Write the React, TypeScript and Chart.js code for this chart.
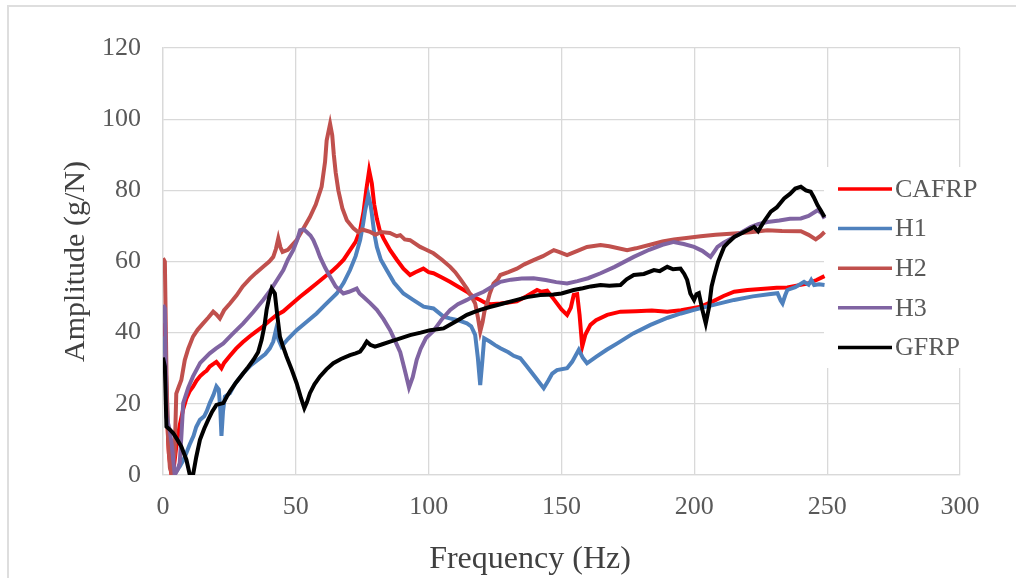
import { useEffect, useRef } from "react";
import { Chart, registerables } from "chart.js";

Chart.register(...registerables);

// Frequency response (amplitude vs. frequency) for five laminates.
const cafrpFreq = [0, 0.7, 1.3, 2.2, 3.2, 4.2, 5, 6.3, 7.6, 8.8, 10, 11.3, 12.6, 14, 15.5, 16.4, 17.6, 19, 20.1, 21, 22, 23, 25.2, 27.5, 30, 32.7, 35, 37.7, 40, 42.8, 45.3, 48, 51.6, 54.5, 57.8, 61, 63.5, 65.4, 68, 70.4, 72.5, 74.2, 75.5, 76.5, 77.6, 78.6, 79.5, 80.5, 81.5, 83, 85.5, 88, 90.5, 93, 95, 98, 100, 101.8, 105, 108, 111, 114.4, 117, 119.4, 121, 123.2, 127, 130, 133.2, 137, 140.8, 142.5, 144.6, 147, 150, 152.1, 153.5, 154.6, 155.9, 156.8, 157.8, 159, 160.9, 163, 167.2, 172.2, 178, 184, 189.8, 195, 202.4, 207, 211, 215, 220, 227.5, 231, 235, 239, 242.6, 246, 249];
const cafrpAmp = [42.6, 42, 20, 6, 0, 3, 8, 14, 18.5, 21.5, 23.5, 24.8, 26.5, 27.8, 28.8, 29.3, 30.5, 31.2, 31.8, 31, 30, 31.5, 33.5, 35.5, 37.3, 39, 40.3, 41.8, 43.3, 45, 46, 47.8, 50.1, 51.8, 53.8, 55.8, 57.2, 58.5, 60.5, 63.2, 65.5, 68.8, 74, 80, 85.6, 82, 76, 72, 69, 66.5, 63.2, 60.5, 58, 56.2, 57, 58, 57, 56.7, 55.5, 54.3, 53, 51.5, 50, 49.2, 48.5, 48, 48.2, 48.5, 48.8, 50.3, 52, 51.5, 51.8, 49.5, 46.5, 45, 47, 50.6, 50.8, 45, 36.1, 39.5, 42.2, 43.5, 45, 45.9, 46, 46.2, 45.9, 46.3, 47.3, 48.8, 50.3, 51.5, 52, 52.4, 52.6, 52.7, 53.3, 53.8, 54.8, 55.9];

const h1Freq = [0, 0.7, 1.3, 1.9, 2.8, 3.8, 5, 6.3, 7.5, 8.8, 10, 11.5, 12.5, 13.9, 15.5, 16.5, 17.6, 19, 20.1, 21, 21.6, 22, 22.6, 23.3, 25.2, 27, 30.2, 33, 36.5, 38.5, 40.2, 41.5, 42.5, 43.5, 44.6, 47, 50.3, 54, 57.8, 61, 65.4, 68, 70.4, 72.5, 74.2, 75.3, 76.1, 77.3, 78.1, 78.6, 79.5, 80.5, 82, 84.2, 87, 90.5, 94, 98.1, 101.8, 105.6, 108, 111, 114.4, 116, 117.5, 118.5, 119.4, 120.2, 120.9, 123, 125, 127, 130, 132, 134.5, 137, 140, 143.3, 145, 146.5, 148.3, 152.1, 154, 156.5, 158, 159.6, 163, 167, 171, 177, 183.5, 190, 195, 199.9, 205, 210, 215, 222, 228, 231.3, 232.5, 233.2, 234.2, 235, 238, 241.3, 243, 244, 245.1, 247, 249];
const h1Amp = [38.9, 37, 25, 12.7, 6, 1.5, 1, 2.4, 4, 6.2, 8.5, 11, 13.5, 15.5, 16.5, 18, 20.2, 22.5, 24.9, 24, 18, 11, 18, 22, 23, 25.5, 28.6, 30.8, 32.8, 34, 35.6, 37.5, 40.7, 38, 36.1, 38.2, 40.7, 43, 45.4, 47.8, 51, 54, 57.6, 61.5, 66, 70.5, 74.4, 78.6, 76, 73.5, 68, 64.1, 60.5, 57.6, 54, 51, 49.3, 47.3, 46.8, 44.5, 44, 43.5, 42.6, 41.8, 39.4, 33, 25.3, 32, 38.4, 37.5, 36.5, 35.6, 34.5, 33.5, 32.8, 30.5, 27.6, 24.4, 26.5, 28.5, 29.5, 30, 31.8, 35.2, 33, 31.4, 33.2, 35.2, 37, 39.8, 42.2, 44.2, 45.4, 46.4, 47.4, 48.3, 49.2, 50.2, 50.8, 51.1, 49, 48.2, 50.5, 52, 52.8, 54.3, 53.5, 54.8, 53.4, 53.6, 53.4];

const h2Freq = [0, 0.7, 1, 1.3, 1.9, 2.6, 3.2, 4.4, 5, 5.8, 6.9, 8.2, 9.5, 11.3, 13, 15.1, 17, 18.9, 20, 21.4, 23, 25.2, 27.7, 30, 32.7, 35, 37.7, 40, 41.5, 42.5, 43.4, 44.2, 45, 47, 50.3, 53, 55.3, 57.5, 59.7, 61, 61.6, 62.9, 63.7, 64.3, 65, 66, 67.5, 69.2, 71.7, 73.5, 75, 78, 80, 82, 85.4, 88, 89.3, 91, 93, 96.8, 98.5, 101.8, 105, 108.1, 110, 112, 114.4, 116, 117.5, 118.6, 119.4, 120.3, 121, 122, 123, 124.4, 126, 127, 130, 133.2, 136, 139.5, 143, 147.1, 149, 152.1, 156, 159.6, 164.7, 168, 174.7, 178, 184.8, 188, 192.3, 197, 202.4, 208, 215, 221, 227.5, 233, 240.1, 243, 245.7, 247.5, 249];
const h2Amp = [60.9, 59.9, 45, 28.6, 10, 2, 0.5, 6, 22.9, 24.5, 26.7, 32.3, 35.5, 38.9, 40.8, 42.6, 44.2, 45.9, 45.2, 44, 46.3, 48.2, 50.5, 53, 55.2, 56.8, 58.5, 60, 61.3, 63.5, 66.5, 64, 62.7, 63.3, 66, 69.5, 72.5, 76, 81, 88, 94, 98.7, 95.5, 90, 85, 80, 75, 71.6, 69.3, 68.2, 69, 68.3, 67.5, 68.3, 68, 67.1, 67.4, 66.2, 66, 64.1, 63.5, 62.3, 60.5, 58.5, 57, 55, 52.4, 50.3, 48.2, 44, 40.3, 43, 46, 48.2, 51, 53.8, 55, 56.2, 57, 58, 59.2, 60.4, 61.5, 63.2, 62.7, 61.8, 63, 64.1, 64.6, 64.3, 63.2, 63.7, 65, 65.6, 66.2, 66.6, 67.1, 67.5, 67.9, 68.2, 68.8, 68.6, 68.5, 67.5, 66.2, 67.2, 68.3];

const h3Freq = [0, 0.7, 1.3, 2.5, 3.4, 4.4, 5.5, 6.3, 7, 7.6, 9.5, 11.3, 14, 17.6, 20, 22.7, 26, 30.2, 34, 37.7, 41, 45.3, 47, 49, 50.5, 51.6, 53, 54.1, 55.5, 56.6, 58, 59.1, 61, 62.9, 65, 67.9, 70, 72.9, 74, 75.4, 78, 80.5, 83, 85.5, 87.5, 89.3, 91, 92.6, 94, 95.5, 97, 99, 101.8, 105, 108.1, 111, 114.4, 117, 120.7, 124, 127, 131, 135, 139.5, 144, 148, 152.1, 156, 160, 164.7, 170, 177.2, 183, 188, 192.3, 196, 199.9, 203, 206.1, 207.5, 208.7, 211, 215, 218, 221.2, 224, 227.5, 232, 236, 240.1, 243, 246.4, 248, 249];
const h3Amp = [47.8, 46.8, 16.4, 12.7, 8, 0, 1.5, 3.4, 12, 20.2, 24.5, 27.7, 31.5, 34.2, 35.6, 37, 39.5, 42.6, 45.8, 49.2, 52.5, 57.6, 60.5, 63.2, 66, 68.8, 69, 68.3, 67.3, 66, 63.5, 61.3, 58.3, 55.7, 53, 51, 51.5, 52.4, 51, 50.1, 48.3, 46.4, 43.8, 40.7, 37.5, 34.5, 29.5, 24.6, 27.5, 32.4, 35.5, 38.5, 40.5, 43.8, 46.4, 48, 49.2, 50.3, 51.5, 53, 54.3, 54.9, 55.2, 55.3, 54.8, 54.2, 53.8, 54.5, 55.3, 56.7, 58.5, 61.3, 63.3, 64.7, 65.5, 64.9, 64.1, 63, 61.3, 62.8, 64.1, 65.3, 66.9, 68.3, 69.7, 70.5, 71.1, 71.5, 72, 72.1, 72.8, 74.4, 73.5, 72.1];

const gfrpFreq = [0, 0.7, 1.3, 2.5, 3.8, 5.5, 6.9, 8.8, 10.1, 11.3, 12.5, 13.9, 15.5, 17, 18.5, 20.1, 21.5, 22.7, 24, 25.2, 27.5, 30.2, 32, 34, 35.8, 37.1, 38.2, 39, 40, 40.9, 42.1, 43, 44, 45, 46.5, 48.5, 50.3, 52, 53.2, 54.2, 55.3, 57, 59.1, 61.5, 64.1, 67, 70.4, 72.5, 74.2, 75.5, 76.7, 78, 79.8, 82, 85.5, 89.3, 93, 97, 100.6, 105.6, 108, 111, 114.4, 117, 119.4, 123, 127, 133.2, 137, 142, 147, 150, 154.6, 158, 161, 164.7, 168, 172.2, 174.5, 177.2, 181, 184.8, 187, 189.8, 192, 194.8, 196.2, 197.3, 198.5, 199.9, 200.8, 201.7, 203, 204.3, 205.5, 206.5, 207.4, 209, 211.2, 213, 215, 218, 220, 222.5, 224, 226, 228.8, 231, 233.8, 236, 238, 240.1, 242, 243.8, 245, 246.4, 247.5, 249];
const gfrpAmp = [33, 30.5, 13.6, 12.8, 11.8, 9.8, 8, 4.3, 0, 0, 5, 9.9, 13, 15.5, 17.8, 19.7, 20, 20.2, 22, 23.5, 26, 28.6, 30.3, 32.3, 34.5, 37.9, 42, 46.4, 50, 52.4, 51, 45, 38.9, 36.5, 33.3, 29.5, 25.8, 21.5, 18.8, 20.5, 23, 25.5, 27.7, 29.7, 31.4, 32.6, 33.7, 34.2, 34.7, 36, 37.5, 36.6, 36.1, 36.6, 37.5, 38.4, 39.3, 40, 40.7, 41.2, 42.2, 43.5, 45, 45.8, 46.4, 47.2, 48, 49.2, 50, 50.6, 50.7, 51, 52, 52.5, 53, 53.4, 53.2, 53.4, 55, 56.2, 56.5, 57.6, 57.3, 58.5, 57.8, 58, 56.5, 54.8, 51, 49.2, 50.8, 51.1, 46.5, 42.6, 47, 53, 55.7, 60, 64.1, 65.5, 66.9, 68, 68.8, 69.7, 68.5, 71, 74, 75.2, 77.7, 79, 80.5, 81, 80, 79.6, 78, 75.8, 74.5, 72.5];

const seriesNames = ["CAFRP", "H1", "H2", "H3", "GFRP"];
const seriesColors = ["#ff0000", "#4f81bd", "#c0504d", "#8064a2", "#000000"];
const seriesFreqs = [cafrpFreq, h1Freq, h2Freq, h3Freq, gfrpFreq];
const seriesAmps = [cafrpAmp, h1Amp, h2Amp, h3Amp, gfrpAmp];

const xTicks = [0, 50, 100, 150, 200, 250, 300];
const yTicks = [0, 20, 40, 60, 80, 100, 120];
const xTitle = "Frequency (Hz)";
const yTitle = "Amplitude (g/N)";

const SERIF = "'Liberation Serif', 'Times New Roman', serif";
const GRID = "#d9d9d9";

// Legend on a white panel at the right (overlapping the plot area),
// plus the frequency-axis title placed slightly left of centre.
const sideLegend = {
  id: "sideLegend",
  beforeDatasetsDraw(chart: any) {
    const { ctx, chartArea } = chart;
    ctx.save();
    ctx.fillStyle = "#ffffff";
    ctx.fillRect(chartArea.right - 136, 167, 190, 201);
    ctx.restore();
  },
  afterDatasetsDraw(chart: any) {
    const { ctx, chartArea } = chart;
    const x0 = chartArea.right - 122;
    ctx.save();
    ctx.font = `26px ${SERIF}`;
    ctx.textBaseline = "middle";
    ctx.textAlign = "left";
    seriesNames.forEach((name, i) => {
      const y = 189 + i * 39.6;
      ctx.strokeStyle = seriesColors[i];
      ctx.lineWidth = 3.5;
      ctx.beginPath();
      ctx.moveTo(x0, y);
      ctx.lineTo(x0 + 54, y);
      ctx.stroke();
      ctx.fillStyle = "#595959";
      ctx.fillText(name, x0 + 57, y + 1);
    });

    ctx.font = `32px ${SERIF}`;
    ctx.fillStyle = "#404040";
    ctx.textAlign = "center";
    ctx.fillText(xTitle, chartArea.left + 367, chart.height - 18);
    ctx.restore();
  },
};

export default function App() {
  const canvasRef = useRef<HTMLCanvasElement | null>(null);

  useEffect(() => {
    const canvas = canvasRef.current;
    if (!canvas) return;
    const datasets = seriesNames.map((name, i) => ({
      label: name,
      data: seriesFreqs[i].map((f, j) => ({ x: f, y: seriesAmps[i][j] })),
      borderColor: seriesColors[i],
      backgroundColor: seriesColors[i],
      borderWidth: 4,
      pointRadius: 0,
      tension: 0,
      fill: false,
      order: seriesNames.length - i,
    }));

    const chart = new Chart(canvas, {
      type: "line",
      data: { datasets },
      options: {
        animation: false,
        responsive: false,
        devicePixelRatio: 1,
        layout: { padding: { top: 48, right: 56, left: 0, bottom: 0 } },
        plugins: { legend: { display: false }, tooltip: { enabled: false } },
        scales: {
          x: {
            type: "linear",
            min: 0,
            max: 300,
            afterBuildTicks: (scale: any) => {
              scale.ticks = xTicks.map((v) => ({ value: v }));
            },
            afterFit: (scale: any) => {
              scale.height = 103;
            },
            ticks: {
              font: { family: SERIF, size: 26 },
              color: "#595959",
              padding: 17,
              maxRotation: 0,
            },
            grid: { color: GRID, lineWidth: 1.3, drawTicks: false },
            border: { color: GRID, width: 1.3 },
            title: { display: false },
          },
          y: {
            type: "linear",
            min: 0,
            max: 120,
            afterBuildTicks: (scale: any) => {
              scale.ticks = yTicks.map((v) => ({ value: v }));
            },
            afterFit: (scale: any) => {
              scale.width = 163;
            },
            ticks: {
              font: { family: SERIF, size: 26 },
              color: "#595959",
              padding: 22,
            },
            grid: { color: GRID, lineWidth: 1.3, drawTicks: false },
            border: { color: GRID, width: 1.3 },
            title: {
              display: true,
              text: yTitle,
              font: { family: SERIF, size: 30 },
              color: "#404040",
              padding: { top: 58, bottom: 0 },
            },
          },
        },
      },
      plugins: [sideLegend],
    });

    return () => chart.destroy();
  }, []);

  return (
    <div style={{ position: "fixed", left: 0, top: 0, width: 1016, height: 578, background: "#ffffff" }}>
      <canvas ref={canvasRef} width={1016} height={578} style={{ display: "block" }} />
      <div
        style={{
          position: "absolute",
          left: 7,
          top: 5,
          right: 0,
          bottom: 0,
          borderTop: "2px solid #dedede",
          borderLeft: "2px solid #dedede",
          pointerEvents: "none",
        }}
      />
    </div>
  );
}
